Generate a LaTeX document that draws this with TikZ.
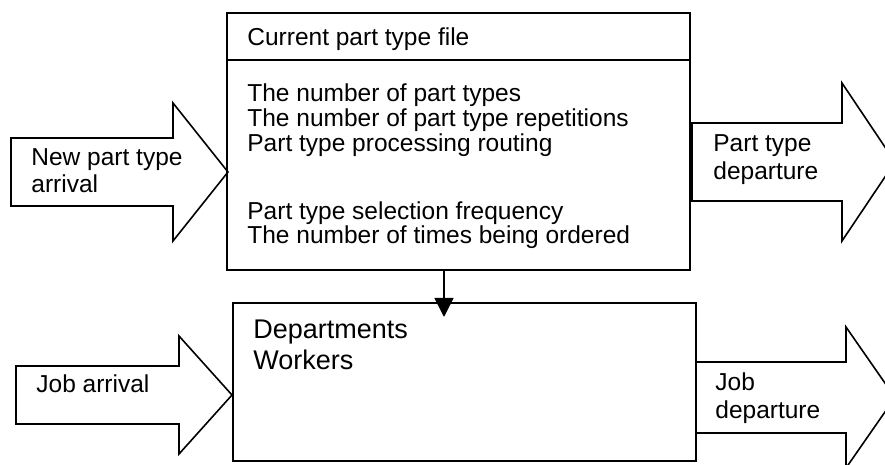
\documentclass[tikz,border=0pt]{standalone}
\usepackage{fontspec}
\setmainfont{Liberation Sans}
\usepackage{tikz}
\usetikzlibrary{calc}
\usetikzlibrary{arrows.meta}

\tikzset{
  filebox/.style={draw, line width=0.8pt, inner sep=0pt},
  blockarrow/.style={draw, line width=0.8pt, line join=miter},
  lbl/.style={anchor=base west, inner sep=0pt, font=\fontsize{12.25}{14}\selectfont},
  biglbl/.style={anchor=base west, inner sep=0pt, font=\fontsize{13.5}{16}\selectfont},
}

% block arrow: x start, x head base, x tip, y centre, half shaft, half head
\newcommand{\blockarrow}[6]{%
  \draw [blockarrow] (#1,{#4-#5}) -- (#2,{#4-#5}) -- (#2,{#4-#6}) -- (#3,#4)
     -- (#2,{#4+#6}) -- (#2,{#4+#5}) -- (#1,{#4+#5}) -- cycle;}

\begin{document}
\begin{tikzpicture}[x=0.5pt,y=-0.5pt]
\useasboundingbox (0,0) rectangle (885,465);

% the two boxes
\node [filebox, minimum width=231.5pt, minimum height=128.5pt] (cur) at (458.5,141.5) {};
\node [filebox, minimum width=231.5pt, minimum height=79pt] (dep) at (464.5,382) {};
\draw [line width=0.8pt] (cur.west |- 0,60) -- (cur.east |- 0,60);

% arrows in and out
\blockarrow{11}{173}{228}{172}{34}{69}
\blockarrow{16}{179}{232}{395}{29}{59}
\blockarrow{692}{842}{895}{162}{39}{79}
\blockarrow{696}{846}{895}{397.5}{35.5}{70.5}

\coordinate (tip) at (444,317);
\draw [line width=0.8pt, -{Triangle[length=9.5pt,width=9.5pt]}] (cur.south -| tip) -- (tip);

% texts
\node [lbl] (head) at (247,46) {Current part type file};
\node [lbl] (l1) at (247,102) {The number of part types};
\node [lbl] (l2) at (247,127) {The number of part type repetitions};
\node [lbl] (l3) at (247,152) {Part type processing routing};
\node [lbl] (l4) at (247,220) {Part type selection frequency};
\node [lbl] (l5) at (247,244) {The number of times being ordered};

\node [biglbl] (d1) at (253,338) {Departments};
\node [biglbl] (d2) at (253,370) {Workers};

\node [lbl] (na1) at (31,166) {New part type};
\node [lbl] (na2) at (31,193) {arrival};
\node [lbl] (ja) at (36,393) {Job arrival};
\node [lbl] (pd1) at (713,152) {Part type};
\node [lbl] (pd2) at (713,180) {departure};
\node [lbl] (jd1) at (715,390) {Job};
\node [lbl] (jd2) at (715,418) {departure};
\end{tikzpicture}
\end{document}
